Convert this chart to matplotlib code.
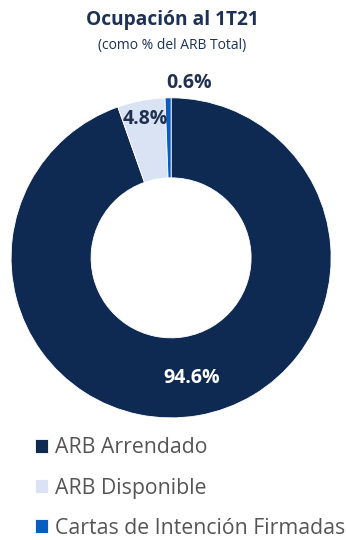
import matplotlib.pyplot as plt

# Data
labels = ['ARB Arrendado', 'ARB Disponible', 'Cartas de Intención Firmadas']
values = [94.6, 4.8, 0.6]
colors = ['#0E2A52', '#D9E3F3', '#0A5CC0']

plt.rcParams['font.family'] = ['Open Sans', 'DejaVu Sans']

fig = plt.figure(figsize=(3.46, 5.4), dpi=100)
ax = fig.add_axes([0.032, 0.226, 0.925, 0.593])

wedges, _ = ax.pie(values, colors=colors, startangle=90, counterclock=False,
                   radius=1.0, wedgeprops=dict(width=0.5, edgecolor='white', linewidth=0.6))
ax.set_xlim(-1, 1)
ax.set_ylim(-1, 1)
ax.set_aspect('equal')

# value labels
ax.text(0.13, -0.75, f'{values[0]}%', color='white', fontsize=14, fontweight='bold',
        ha='center', va='center')
ax.text(-0.16, 0.87, f'{values[1]}%', color='#1F3050', fontsize=14, fontweight='bold',
        ha='center', va='center')
ax.text(0.11, 1.09, f'{values[2]}%', color='#1F3050', fontsize=14, fontweight='bold',
        ha='center', va='center')

fig.text(0.497, 0.963, 'Ocupación al 1T21', fontsize=13.8, fontweight='bold',
         color='#1B3157', ha='center', va='center')
fig.text(0.497, 0.916, '(como % del ARB Total)', fontsize=10,
         color='#1B3157', ha='center', va='center')

leg = fig.legend(wedges, labels, loc='upper left', bbox_to_anchor=(0.1, 0.19),
                 frameon=False, fontsize=15.3, handlelength=0.65, handleheight=0.65,
                 handletextpad=0.3, labelspacing=0.9, borderaxespad=0, borderpad=0)
for t in leg.get_texts():
    t.set_color('#555555')

fig.savefig('out.png', dpi=100)
